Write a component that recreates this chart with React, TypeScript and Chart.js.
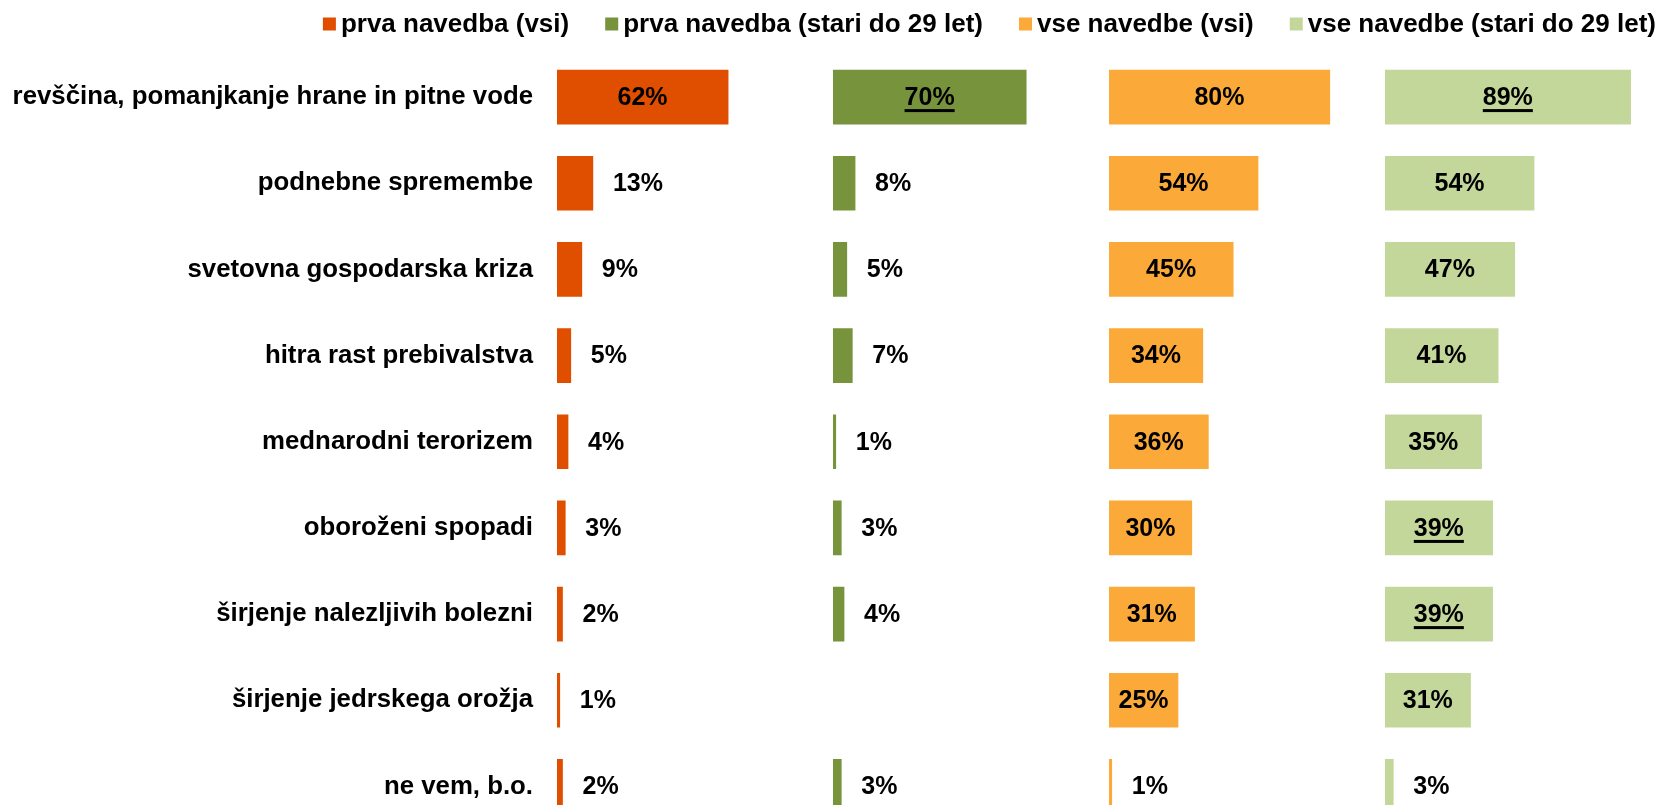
import React, { useEffect, useRef } from "react";
import { Chart, registerables } from "chart.js";

Chart.register(...registerables);

const categories = [
  "revščina, pomanjkanje hrane in pitne vode",
  "podnebne spremembe",
  "svetovna gospodarska kriza",
  "hitra rast prebivalstva",
  "mednarodni terorizem",
  "oboroženi spopadi",
  "širjenje nalezljivih bolezni",
  "širjenje jedrskega orožja",
  "ne vem, b.o.",
];

const prvaVsi = [62, 13, 9, 5, 4, 3, 2, 1, 2];
const prvaMladi = [70, 8, 5, 7, 1, 3, 4, null, 3];
const vseVsi = [80, 54, 45, 34, 36, 30, 31, 25, 1];
const vseMladi = [89, 54, 47, 41, 35, 39, 39, 31, 3];

const seriesLabels = [
  "prva navedba (vsi)",
  "prva navedba (stari do 29 let)",
  "vse navedbe (vsi)",
  "vse navedbe (stari do 29 let)",
];
const seriesColors = ["#E04E00", "#77933C", "#FBAA3A", "#C4D79B"];
// indices of values that are underlined (statistically significant)
const underlinedIdx: number[][] = [[], [0], [], [0, 5, 6]];

const FONT_FAMILY = '"Liberation Sans", Arial, sans-serif';
const LABEL_SIZE = 25.8;
const VALUE_SIZE = 25;
const LEGEND_SIZE = 26;

const valueLabelPlugin = {
  id: "valueLabels",
  afterDatasetsDraw(chart: any) {
    const ctx = chart.ctx;
    ctx.save();
    ctx.font = `bold ${VALUE_SIZE}px ${FONT_FAMILY}`;
    ctx.fillStyle = "#000";
    ctx.textBaseline = "middle";
    ctx.textAlign = "left";
    chart.data.datasets.forEach((ds: any, di: number) => {
      const meta = chart.getDatasetMeta(di);
      meta.data.forEach((el: any, i: number) => {
        const v = ds.data[i];
        if (v == null) return;
        const text = v + "%";
        const w = ctx.measureText(text).width;
        const x0 = v >= 20 ? (el.base + el.x) / 2 - w / 2 : el.x + 20;
        ctx.fillText(text, x0, el.y + 1);
        if (underlinedIdx[di].includes(i)) {
          ctx.fillRect(x0, el.y + 12, w, 3);
        }
      });
    });
    ctx.restore();
  },
};

const legendPlugin = {
  id: "customLegend",
  afterDraw(chart: any) {
    const ctx = chart.ctx;
    ctx.save();
    ctx.font = `bold ${LEGEND_SIZE}px ${FONT_FAMILY}`;
    ctx.textBaseline = "middle";
    ctx.textAlign = "left";
    const y = 24;
    let x = chart.width - 5;
    const dss = chart.data.datasets;
    for (let i = dss.length - 1; i >= 0; i--) {
      const ds = dss[i];
      const w = ctx.measureText(ds.label).width;
      x -= w;
      ctx.fillStyle = "#000";
      ctx.fillText(ds.label, x, y + 1);
      x -= 5 + 13;
      ctx.fillStyle = ds.backgroundColor;
      ctx.fillRect(x, y - 6.5, 13, 13);
      x -= 36;
    }
    ctx.restore();
  },
};

const xAxis = () => ({
  type: "linear" as const,
  min: 0,
  max: 100,
  display: false,
  stack: "panels",
  stackWeight: 1,
  position: "bottom" as const,
  grid: { display: false },
});

export default function App() {
  const canvasRef = useRef<HTMLCanvasElement | null>(null);

  useEffect(() => {
    if (!canvasRef.current) return;
    const seriesData = [prvaVsi, prvaMladi, vseVsi, vseMladi];
    const chart = new Chart(canvasRef.current, {
      type: "bar",
      data: {
        labels: categories,
        datasets: seriesData.map((d, i) => ({
          label: seriesLabels[i],
          data: d as any,
          backgroundColor: seriesColors[i],
          borderWidth: 0,
          xAxisID: "x" + i,
          yAxisID: "y",
          grouped: false,
          barThickness: 54,
        })),
      },
      options: {
        indexAxis: "y",
        responsive: false,
        animation: false,
        layout: { padding: { top: 54, bottom: 3, left: 0, right: 0 } },
        plugins: {
          legend: { display: false },
          tooltip: { enabled: false },
        },
        scales: {
          x0: xAxis(),
          x1: xAxis(),
          x2: xAxis(),
          x3: xAxis(),
          y: {
            type: "category",
            offset: true,
            grid: { display: false, drawTicks: false },
            border: { display: false },
            ticks: {
              color: "#000",
              padding: 24,
              font: { family: FONT_FAMILY, size: LABEL_SIZE, weight: "bold" },
            },
            afterFit(scale: any) {
              scale.width = 557;
            },
          },
        } as any,
      },
      plugins: [valueLabelPlugin, legendPlugin],
    });
    return () => chart.destroy();
  }, []);

  return (
    <div style={{ position: "absolute", left: 0, top: 0, width: 1661, height: 869, overflow: "hidden" }}>
      <style>{"body{margin:0;overflow:hidden;}"}</style>
      <canvas ref={canvasRef} width={1661} height={869} />
    </div>
  );
}
